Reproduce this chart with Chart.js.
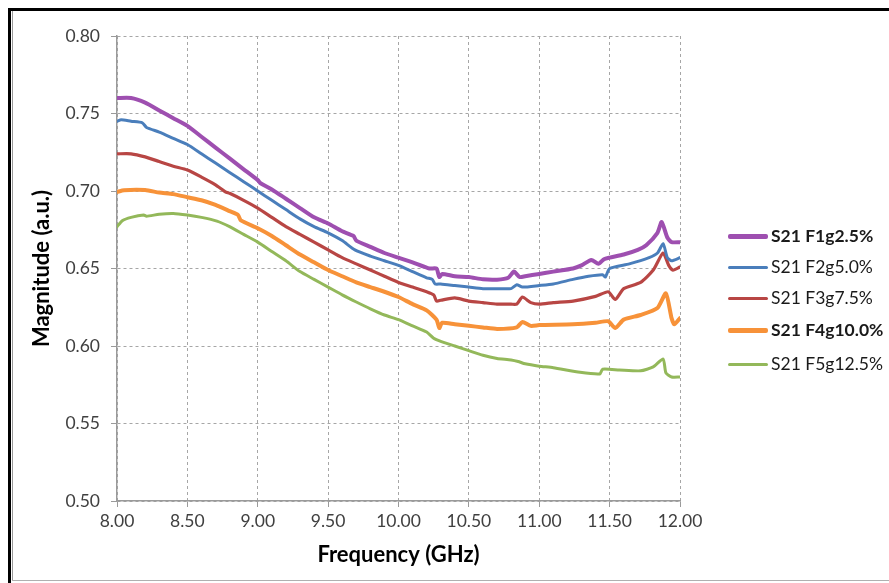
<!DOCTYPE html>
<html>
<head>
<meta charset="utf-8">
<script src="https://cdn.jsdelivr.net/npm/chart.js@4.4.1/dist/chart.umd.min.js"></script>
<style>
  html, body { margin: 0; padding: 0; background: #fff; }
  #wrap { position: relative; width: 889px; height: 583px; overflow: hidden; }
  #chart { position: absolute; left: 0; top: 0; }
  .frame { position: absolute; pointer-events: none; }
  #legend { position: absolute; left: 728px; top: 222px; font-family: Lato, sans-serif; font-size: 17.5px; color: #1a1a1a; }
  .item { position: absolute; left: 0; height: 28px; white-space: nowrap; }
  .item .swatch { position: absolute; left: 0; width: 40px; }
  .item .txt { position: absolute; left: 43px; top: 0; line-height: 28px; }
</style>
</head>
<body>
<div id="wrap">
  <canvas id="chart" width="889" height="583"></canvas>
  <div class="frame" style="left:8px;top:8px;width:881px;height:3px;background:#000"></div>
  <div class="frame" style="left:8px;top:8px;width:3px;height:575px;background:#000"></div>
  <div class="frame" style="left:12px;top:11px;width:1px;height:569px;background:#9a9a9a"></div>
  <div class="frame" style="left:12px;top:580px;width:877px;height:1px;background:#b0b0b0"></div>
  <div id="legend"></div>
</div>
<script>
// S21 magnitude vs frequency
const seriesNames = ['S21 F1g2.5%', 'S21 F2g5.0%', 'S21 F3g7.5%', 'S21 F4g10.0%', 'S21 F5g12.5%'];
const seriesColors = ['#9e4fb0', '#4a7ebb', '#b84644', '#f79239', '#93b85a'];

const xTicks = [8.0, 8.5, 9.0, 9.5, 10.0, 10.5, 11.0, 11.5, 12.0];
const yTicks = [0.50, 0.55, 0.60, 0.65, 0.70, 0.75, 0.80];

const f1Freq = [8.00, 8.10, 8.20, 8.30, 8.40, 8.50, 8.60, 8.70, 8.80, 8.90, 9.00, 9.02, 9.10, 9.20, 9.30, 9.40, 9.50, 9.60, 9.68, 9.70, 9.80, 9.90, 10.00, 10.10, 10.22, 10.27, 10.29, 10.31, 10.40, 10.50, 10.60, 10.70, 10.78, 10.82, 10.86, 10.90, 11.00, 11.10, 11.24, 11.30, 11.37, 11.42, 11.46, 11.50, 11.60, 11.70, 11.76, 11.84, 11.87, 11.91, 11.94, 12.00];
const f1Mag = [0.760, 0.760, 0.757, 0.752, 0.747, 0.742, 0.735, 0.728, 0.721, 0.714, 0.707, 0.705, 0.701, 0.695, 0.689, 0.683, 0.679, 0.674, 0.671, 0.668, 0.664, 0.660, 0.657, 0.654, 0.650, 0.650, 0.6445, 0.6465, 0.645, 0.6445, 0.643, 0.6428, 0.644, 0.648, 0.6445, 0.645, 0.6465, 0.648, 0.650, 0.652, 0.6555, 0.653, 0.656, 0.657, 0.659, 0.662, 0.665, 0.673, 0.680, 0.670, 0.667, 0.667];

const f2Freq = [8.00, 8.03, 8.10, 8.18, 8.21, 8.30, 8.40, 8.50, 8.60, 8.70, 8.80, 8.90, 9.00, 9.10, 9.20, 9.30, 9.40, 9.50, 9.60, 9.69, 9.80, 9.90, 10.00, 10.10, 10.20, 10.24, 10.26, 10.30, 10.40, 10.50, 10.60, 10.70, 10.80, 10.84, 10.88, 11.00, 11.10, 11.24, 11.35, 11.45, 11.47, 11.50, 11.64, 11.78, 11.84, 11.88, 11.91, 11.94, 12.00];
const f2Mag = [0.745, 0.746, 0.745, 0.744, 0.741, 0.738, 0.734, 0.730, 0.724, 0.718, 0.712, 0.706, 0.700, 0.694, 0.688, 0.682, 0.677, 0.673, 0.668, 0.662, 0.658, 0.655, 0.652, 0.648, 0.644, 0.643, 0.640, 0.640, 0.639, 0.638, 0.637, 0.637, 0.637, 0.6395, 0.638, 0.639, 0.640, 0.643, 0.645, 0.646, 0.6445, 0.650, 0.653, 0.657, 0.660, 0.666, 0.657, 0.655, 0.657];

const f3Freq = [8.00, 8.10, 8.20, 8.30, 8.40, 8.50, 8.60, 8.70, 8.77, 8.80, 8.90, 9.00, 9.10, 9.20, 9.30, 9.40, 9.50, 9.60, 9.70, 9.80, 9.90, 10.00, 10.10, 10.20, 10.25, 10.27, 10.30, 10.40, 10.50, 10.60, 10.70, 10.80, 10.84, 10.88, 10.94, 11.00, 11.10, 11.24, 11.40, 11.49, 11.54, 11.60, 11.72, 11.81, 11.88, 11.92, 11.95, 12.00];
const f3Mag = [0.724, 0.724, 0.722, 0.719, 0.716, 0.7135, 0.709, 0.704, 0.6995, 0.6985, 0.694, 0.689, 0.683, 0.677, 0.672, 0.667, 0.662, 0.657, 0.653, 0.649, 0.645, 0.641, 0.638, 0.635, 0.633, 0.629, 0.6295, 0.631, 0.629, 0.628, 0.627, 0.627, 0.627, 0.6316, 0.628, 0.627, 0.628, 0.629, 0.632, 0.635, 0.630, 0.637, 0.641, 0.649, 0.660, 0.652, 0.649, 0.651];

const f4Freq = [8.00, 8.05, 8.20, 8.30, 8.40, 8.50, 8.60, 8.70, 8.80, 8.86, 8.88, 9.00, 9.10, 9.20, 9.30, 9.40, 9.50, 9.60, 9.70, 9.80, 9.90, 10.00, 10.10, 10.20, 10.27, 10.29, 10.31, 10.40, 10.50, 10.60, 10.70, 10.84, 10.88, 10.94, 11.00, 11.24, 11.40, 11.49, 11.54, 11.60, 11.72, 11.84, 11.90, 11.94, 11.96, 12.00];
const f4Mag = [0.6994, 0.7005, 0.7006, 0.699, 0.698, 0.696, 0.694, 0.691, 0.687, 0.6845, 0.681, 0.676, 0.671, 0.665, 0.659, 0.654, 0.649, 0.645, 0.641, 0.638, 0.635, 0.6316, 0.627, 0.623, 0.617, 0.6116, 0.615, 0.614, 0.613, 0.612, 0.611, 0.612, 0.6155, 0.613, 0.6135, 0.614, 0.615, 0.616, 0.6116, 0.617, 0.620, 0.6245, 0.634, 0.618, 0.614, 0.618];

const f5Freq = [8.00, 8.04, 8.10, 8.19, 8.21, 8.30, 8.40, 8.50, 8.60, 8.71, 8.80, 8.90, 9.00, 9.10, 9.20, 9.30, 9.40, 9.50, 9.60, 9.70, 9.80, 9.90, 10.00, 10.10, 10.20, 10.25, 10.30, 10.40, 10.50, 10.60, 10.70, 10.80, 10.85, 10.90, 11.00, 11.10, 11.29, 11.43, 11.45, 11.57, 11.72, 11.81, 11.88, 11.90, 11.94, 12.00];
const f5Mag = [0.677, 0.681, 0.683, 0.6845, 0.6837, 0.685, 0.6855, 0.6845, 0.683, 0.6806, 0.677, 0.672, 0.667, 0.661, 0.655, 0.648, 0.643, 0.638, 0.633, 0.6284, 0.624, 0.620, 0.617, 0.613, 0.609, 0.605, 0.603, 0.600, 0.597, 0.594, 0.592, 0.591, 0.590, 0.5885, 0.587, 0.586, 0.583, 0.582, 0.585, 0.5845, 0.584, 0.5865, 0.5916, 0.5826, 0.580, 0.580];

const allFreq = [f1Freq, f2Freq, f3Freq, f4Freq, f5Freq];
const allMag = [f1Mag, f2Mag, f3Mag, f4Mag, f5Mag];
const lineWidths = [4, 3, 3.2, 4, 3];
const legendWidths = [5, 3, 3, 5, 3];
const legendBold = [true, false, false, true, false];

const datasets = seriesNames.map((name, i) => ({
  label: name,
  data: allFreq[i].map((f, j) => ({ x: f, y: allMag[i][j] })),
  borderColor: seriesColors[i],
  backgroundColor: seriesColors[i],
  borderWidth: lineWidths[i],
  pointRadius: 0,
  tension: 0.2,
  fill: false,
  borderJoinStyle: 'round',
  borderCapStyle: 'round',
}));

// html legend, built from the same arrays
const legendEl = document.getElementById('legend');
const legendTops = [0, 31, 62, 94, 128];
seriesNames.forEach((name, i) => {
  const item = document.createElement('div');
  item.className = 'item';
  item.style.top = legendTops[i] + 'px';
  const sw = document.createElement('div');
  sw.className = 'swatch';
  sw.style.background = seriesColors[i];
  sw.style.height = legendWidths[i] + 'px';
  sw.style.top = (14 - legendWidths[i] / 2) + 'px';
  sw.style.borderRadius = '2px';
  const t = document.createElement('span');
  t.className = 'txt';
  t.textContent = name;
  if (legendBold[i]) t.style.fontWeight = 'bold';
  item.appendChild(sw);
  item.appendChild(t);
  legendEl.appendChild(item);
});

const gridColor = '#a6a6a6';
const axisColor = '#9a9a9a';
const tickFont = { family: 'Lato', size: 17.5 };
const titleFont = { family: 'Lato', size: 22, weight: 'bold' };

new Chart(document.getElementById('chart'), {
  type: 'line',
  data: { datasets },
  options: {
    responsive: false,
    animation: false,
    layout: { padding: { left: 25, top: 36, right: 209, bottom: 11 } },
    plugins: { legend: { display: false }, tooltip: { enabled: false } },
    scales: {
      x: {
        type: 'linear',
        min: 8, max: 12,
        afterBuildTicks: (scale) => { scale.ticks = xTicks.map(v => ({ value: v })); },
        afterFit: (scale) => { scale.height = 71; },
        ticks: { padding: 4, color: '#404040', font: tickFont, maxRotation: 0, callback: (v) => v.toFixed(2) },
        grid: { color: gridColor, lineWidth: 1, tickLength: 6, tickColor: axisColor, tickBorderDash: [] },
        border: { display: true, color: axisColor, width: 1.5, dash: [3, 3] },
        title: { display: true, text: 'Frequency (GHz)', color: '#000', font: titleFont, padding: { top: 4, bottom: 4 } },
      },
      y: {
        type: 'linear',
        min: 0.5, max: 0.8,
        afterBuildTicks: (scale) => { scale.ticks = yTicks.map(v => ({ value: v })); },
        afterFit: (scale) => { scale.width = 92; },
        ticks: { padding: 11, color: '#404040', font: tickFont, callback: (v) => v.toFixed(2) },
        grid: { color: gridColor, lineWidth: 1, tickLength: 6, tickColor: axisColor, tickBorderDash: [] },
        border: { display: true, color: axisColor, width: 1.5, dash: [3, 3] },
        title: { display: true, text: 'Magnitude (a.u.)', color: '#000', font: titleFont, padding: { top: 4, bottom: 4 } },
      },
    },
  },
});
</script>
</body>
</html>
